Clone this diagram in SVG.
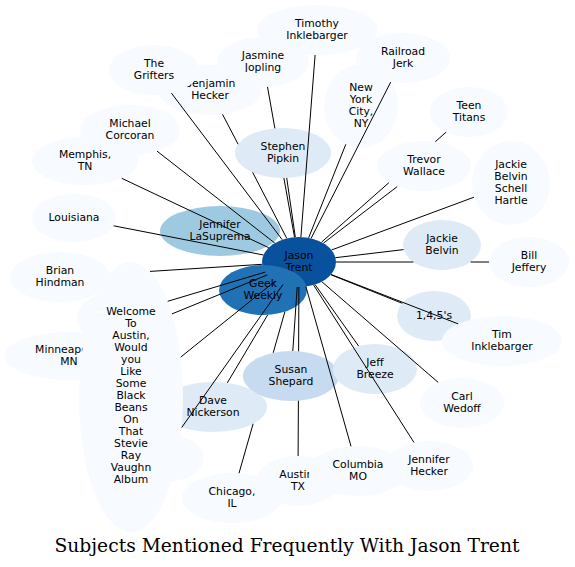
<svg xmlns="http://www.w3.org/2000/svg" width="575" height="567" viewBox="0 0 575 567">
<style>
.t{font-family:"DejaVu Sans","Liberation Sans",sans-serif;font-size:10.8px;text-anchor:middle;fill:#000}
.c path{stroke:#000;stroke-width:1;fill:none}
.f0{fill:#f7fbff}.f1{fill:#deebf7}.f2{fill:#c6dbef}.f3{fill:#9ecae1}.f5{fill:#2171b5}.f6{fill:#08519c}
.title{font-family:"DejaVu Serif","Liberation Serif",serif;font-size:18.7px;text-anchor:middle;fill:#000}
</style>
<rect width="575" height="567" fill="#fff"/>
<g id="n_timothy"><ellipse class="f0" cx="317" cy="30" rx="60" ry="25"/><text class="t"><tspan x="317" y="27">Timothy</tspan><tspan x="317" y="39">Inklebarger</tspan></text></g>
<g id="n_jasmine"><ellipse class="f0" cx="263" cy="62" rx="46" ry="25"/><text class="t"><tspan x="263" y="59">Jasmine</tspan><tspan x="263" y="71">Jopling</tspan></text></g>
<g id="n_railroad"><ellipse class="f0" cx="403" cy="58" rx="47" ry="25"/><text class="t"><tspan x="403" y="55">Railroad</tspan><tspan x="403" y="67">Jerk</tspan></text></g>
<g id="n_nyc"><ellipse class="f0" cx="361" cy="106" rx="37" ry="42"/><text class="t"><tspan x="361" y="91">New</tspan><tspan x="361" y="103">York</tspan><tspan x="361" y="115">City,</tspan><tspan x="361" y="127">NY</tspan></text></g>
<g id="n_teen"><ellipse class="f0" cx="469" cy="112" rx="39" ry="25"/><text class="t"><tspan x="469" y="109">Teen</tspan><tspan x="469" y="121">Titans</tspan></text></g>
<g id="n_trevor"><ellipse class="f0" cx="424" cy="166" rx="47" ry="25"/><text class="t"><tspan x="424" y="163">Trevor</tspan><tspan x="424" y="175">Wallace</tspan></text></g>
<g id="n_jbsh"><ellipse class="f0" cx="511" cy="183" rx="39" ry="42"/><text class="t"><tspan x="511" y="168">Jackie</tspan><tspan x="511" y="180">Belvin</tspan><tspan x="511" y="192">Schell</tspan><tspan x="511" y="204">Hartle</tspan></text></g>
<g id="n_jackieb"><ellipse class="f1" cx="442" cy="245" rx="39" ry="25"/><text class="t"><tspan x="442" y="242">Jackie</tspan><tspan x="442" y="254">Belvin</tspan></text></g>
<g id="n_bill"><ellipse class="f0" cx="529" cy="262" rx="40" ry="25"/><text class="t"><tspan x="529" y="259">Bill</tspan><tspan x="529" y="271">Jeffery</tspan></text></g>
<g id="n_145"><ellipse class="f1" cx="434" cy="316" rx="37" ry="25"/><text class="t"><tspan x="434" y="319">1,4,5's</tspan></text></g>
<g id="n_tim"><ellipse class="f0" cx="502" cy="341" rx="60" ry="25"/><text class="t"><tspan x="502" y="338">Tim</tspan><tspan x="502" y="350">Inklebarger</tspan></text></g>
<g id="n_carl"><ellipse class="f0" cx="462" cy="403" rx="42" ry="25"/><text class="t"><tspan x="462" y="400">Carl</tspan><tspan x="462" y="412">Wedoff</tspan></text></g>
<g id="n_jhecker"><ellipse class="f0" cx="429" cy="466" rx="44" ry="25"/><text class="t"><tspan x="429" y="463">Jennifer</tspan><tspan x="429" y="475">Hecker</tspan></text></g>
<g id="n_austin"><ellipse class="f0" cx="298" cy="481" rx="42" ry="25"/><text class="t"><tspan x="298" y="478">Austin,</tspan><tspan x="298" y="490">TX</tspan></text></g>
<g id="n_columbia"><ellipse class="f0" cx="358" cy="471" rx="49" ry="25"/><text class="t"><tspan x="358" y="468">Columbia</tspan><tspan x="358" y="480">MO</tspan></text></g>
<g id="n_chicago"><ellipse class="f0" cx="232" cy="498" rx="50" ry="25"/><text class="t"><tspan x="232" y="495">Chicago,</tspan><tspan x="232" y="507">IL</tspan></text></g>
<g id="n_benjamin"><ellipse class="f0" cx="210" cy="90" rx="52" ry="25"/><text class="t"><tspan x="210" y="87">Benjamin</tspan><tspan x="210" y="99">Hecker</tspan></text></g>
<g id="n_grifters"><ellipse class="f0" cx="154" cy="70" rx="45" ry="25"/><text class="t"><tspan x="154" y="67">The</tspan><tspan x="154" y="79">Grifters</tspan></text></g>
<g id="n_michael"><ellipse class="f0" cx="130" cy="130" rx="50" ry="25"/><text class="t"><tspan x="130" y="127">Michael</tspan><tspan x="130" y="139">Corcoran</tspan></text></g>
<g id="n_memphis"><ellipse class="f0" cx="85" cy="161" rx="53" ry="24"/><text class="t"><tspan x="85" y="158">Memphis,</tspan><tspan x="85" y="170">TN</tspan></text></g>
<g id="n_louisiana"><ellipse class="f0" cx="74" cy="218" rx="42" ry="24"/><text class="t"><tspan x="74" y="221">Louisiana</tspan></text></g>
<g id="n_lasuprema"><ellipse class="f3" cx="220" cy="231" rx="60" ry="25"/><text class="t"><tspan x="220" y="228">Jennifer</tspan><tspan x="220" y="240">LaSuprema</tspan></text></g>
<g id="n_jason"><ellipse class="f6" cx="299" cy="262" rx="37" ry="25"/><text class="t"><tspan x="299" y="259">Jason</tspan><tspan x="299" y="271">Trent</tspan></text></g>
<g id="n_geek"><ellipse class="f5" cx="263" cy="290" rx="44" ry="25"/><text class="t"><tspan x="263" y="287">Geek</tspan><tspan x="263" y="299">Weekly</tspan></text></g>
<g id="n_stephen"><ellipse class="f1" cx="283" cy="153" rx="48" ry="25"/><text class="t"><tspan x="283" y="150">Stephen</tspan><tspan x="283" y="162">Pipkin</tspan></text></g>
<g id="n_brian"><ellipse class="f0" cx="60" cy="277" rx="50" ry="25"/><text class="t"><tspan x="60" y="274">Brian</tspan><tspan x="60" y="286">Hindman</tspan></text></g>
<g id="n_hidden1"><ellipse class="f0" cx="112" cy="318" rx="35" ry="25"/></g>
<g id="n_minneapolis"><ellipse class="f0" cx="69" cy="356" rx="64" ry="24"/><text class="t"><tspan x="69" y="353">Minneapolis,</tspan><tspan x="69" y="365">MN</tspan></text></g>
<g id="n_hidden2"><ellipse class="f0" cx="160" cy="458" rx="44" ry="25"/></g>
<g id="n_dave"><ellipse class="f1" cx="213" cy="407" rx="54" ry="25"/><text class="t"><tspan x="213" y="404">Dave</tspan><tspan x="213" y="416">Nickerson</tspan></text></g>
<g id="n_welcome"><ellipse class="f0" cx="131" cy="397" rx="52" ry="135"/><text class="t"><tspan x="131" y="315">Welcome</tspan><tspan x="131" y="327">To</tspan><tspan x="131" y="339">Austin,</tspan><tspan x="131" y="351">Would</tspan><tspan x="131" y="363">you</tspan><tspan x="131" y="375">Like</tspan><tspan x="131" y="387">Some</tspan><tspan x="131" y="399">Black</tspan><tspan x="131" y="411">Beans</tspan><tspan x="131" y="423">On</tspan><tspan x="131" y="435">That</tspan><tspan x="131" y="447">Stevie</tspan><tspan x="131" y="459">Ray</tspan><tspan x="131" y="471">Vaughn</tspan><tspan x="131" y="483">Album</tspan></text></g>
<g id="n_susan"><ellipse class="f2" cx="291" cy="376" rx="48" ry="25"/><text class="t"><tspan x="291" y="373">Susan</tspan><tspan x="291" y="385">Shepard</tspan></text></g>
<g id="n_jeff"><ellipse class="f1" cx="375" cy="369" rx="42" ry="25"/><text class="t"><tspan x="375" y="366">Jeff</tspan><tspan x="375" y="378">Breeze</tspan></text></g>
<g id="connectors" class="c">
<path id="e_timothy" d="M300.9,237 L315.1,55"/>
<path id="e_jasmine" d="M294.5,237.2 L283.9,178 M274.9,128.4 L267.5,86.9"/>
<path id="e_railroad" d="M311.1,238.4 L390.7,82.1"/>
<path id="e_nyc" d="M308.6,237.9 L345.8,144.3"/>
<path id="e_teen" d="M321.5,242.2 L388.9,182.7 M435.3,141.7 L446.1,132.2"/>
<path id="e_trevor" d="M323.4,243.2 L397.2,186.6"/>
<path id="e_jbsh" d="M331.5,250 L474,197.2"/>
<path id="e_jackieb" d="M335.4,257.7 L403.6,249.6"/>
<path id="e_bill" d="M336,262 L413.4,262 M470.6,262 L489,262"/>
<path id="e_145" d="M330.8,274.7 L402.2,303.3"/>
<path id="e_tim" d="M331.1,274.5 L458.2,323.9"/>
<path id="e_carl" d="M321.8,281.7 L438.2,382.4"/>
<path id="e_jhecker" d="M313.6,285 L414,442.5"/>
<path id="e_jeff" d="M315,284.5 L358.6,346"/>
<path id="e_columbia" d="M305.9,286.6 L351,446.3"/>
<path id="e_austin" d="M298.9,287 L298.6,351.3 M298.4,400.7 L298.1,456"/>
<path id="e_susan" d="M297.2,287 L292.8,351"/>
<path id="e_chicago" d="M284.9,311.7 L273.2,352.8 M253.1,423.8 L239,473.2"/>
<path id="e_dave" d="M267.7,314.9 L227.3,382.9"/>
<path id="e_welcome" d="M275.2,281.1 L180.7,357.1"/>
<path id="e_minneapolis" d="M267.3,274.9 L172,313.9"/>
<path id="e_hidden1" d="M265.2,272.1 L167.7,301.3"/>
<path id="e_brian" d="M262.2,264.3 L150,271.4"/>
<path id="e_hidden2" d="M283,284.5 L181.7,427.5"/>
<path id="e_louisiana" d="M263.5,255 L113.7,225.8"/>
<path id="e_memphis" d="M268.7,247.7 L121.7,178.3"/>
<path id="e_michael" d="M274.8,243.1 L157,151.1"/>
<path id="e_grifters" d="M282.2,239.7 L171.4,93.1"/>
<path id="e_benjamin" d="M286.8,238.4 L252.6,172.3 M238.1,144.2 L222.5,114.3"/>
<path id="e_stephen" d="M295.3,237.1 L286.7,177.9"/>
</g>
<text class="title" x="287" y="552">Subjects Mentioned Frequently With Jason Trent</text>
</svg>
